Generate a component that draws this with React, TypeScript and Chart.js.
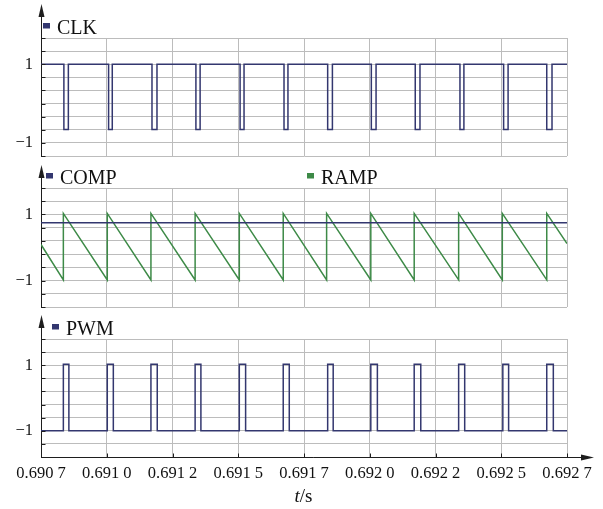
import { useEffect, useRef } from "react";
import { Chart, registerables } from "chart.js";

Chart.register(...registerables);

// ---------- data ----------
const X_MIN = 0.6907;
const X_MAX = 0.6927;
const xTickValues = [0.6907, 0.69095, 0.6912, 0.69145, 0.6917, 0.69195, 0.6922, 0.69245, 0.6927];
const xTickLabels = ["0.690 7", "0.691 0", "0.691 2", "0.691 5", "0.691 7", "0.692 0", "0.692 2", "0.692 5", "0.692 7"];

const clkYTicks = [-1.3333, -1, -0.6667, -0.3333, 0, 0.3333, 0.6667, 1, 1.3333, 1.6667];
const sigYTicks = [-1.8, -1.4, -1, -0.6, -0.2, 0.2, 0.6, 1, 1.4, 1.8];
const yLabelValues = [1, -1];
const yLabelTexts = ["1", "\u22121"];

const clkFallTimes = [0.690787, 0.690957, 0.691122, 0.691289, 0.691457, 0.691624, 0.69179, 0.691956, 0.692123, 0.692293, 0.692459, 0.692623];
const clkRiseTimes = [0.690804, 0.690971, 0.691141, 0.691305, 0.691472, 0.691639, 0.691808, 0.691974, 0.692141, 0.692308, 0.692476, 0.692643];
const CLK_HIGH = 1;
const CLK_LOW = -0.66;

const rampResetTimes = [0.690785, 0.690952, 0.691118, 0.691286, 0.691454, 0.691621, 0.691786, 0.691954, 0.692119, 0.692288, 0.692454, 0.692623];
const RAMP_PEAK = 1.03;
const RAMP_VALLEY = -0.98;
const RAMP_START = 0.09;
const RAMP_END = 0.12;
const COMP_LEVEL = 0.75;

const pwmRiseTimes = [0.690785, 0.690952, 0.691118, 0.691286, 0.691454, 0.691621, 0.69179, 0.691954, 0.692119, 0.692288, 0.692456, 0.692623];
const pwmFallTimes = [0.690806, 0.690975, 0.691142, 0.691308, 0.691478, 0.691644, 0.691811, 0.691979, 0.692144, 0.692311, 0.692478, 0.692648];
const PWM_HIGH = 1.03;
const PWM_LOW = -1;

// ---------- series tables ----------
type P = { x: number; y: number };

function pulseTrain(base: number, level: number, starts: number[], ends: number[]): P[] {
  const pts: P[] = [{ x: X_MIN, y: base }];
  starts.forEach((s, i) => {
    pts.push({ x: s, y: base }, { x: s, y: level }, { x: ends[i], y: level }, { x: ends[i], y: base });
  });
  pts.push({ x: X_MAX, y: base });
  return pts;
}

const clkData = pulseTrain(CLK_HIGH, CLK_LOW, clkFallTimes, clkRiseTimes);
const pwmData = pulseTrain(PWM_LOW, PWM_HIGH, pwmRiseTimes, pwmFallTimes);
const rampData: P[] = [{ x: X_MIN, y: RAMP_START }];
rampResetTimes.forEach((t) => rampData.push({ x: t, y: RAMP_VALLEY }, { x: t, y: RAMP_PEAK }));
rampData.push({ x: X_MAX, y: RAMP_END });
const compData: P[] = [
  { x: X_MIN, y: COMP_LEVEL },
  { x: X_MAX, y: COMP_LEVEL },
];

// ---------- styles ----------
const NAVY = "#33376f";
const GREEN = "#3d8a47";
const GRID = "#bcbcbc";
const AXIS = "#1e1e1e";
const SERIF = "'Liberation Serif', 'Times New Roman', serif";
const TICK_SIZE = 16.5;
const LEGEND_SIZE = 20;
const TITLE_SIZE = 19;

type PanelCfg = {
  top: number;
  height: number;
  padTop: number;
  padBottom: number;
  xHeight: number;
  yTicks: number[];
  series: { label: string; data: P[]; color: string }[];
  legendX: number[];
  arrowTip: number;
  bottomAxis: boolean;
};

const panels: PanelCfg[] = [
  {
    top: 0, height: 160, padTop: 38, padBottom: 4, xHeight: 0, yTicks: clkYTicks,
    series: [{ label: "CLK", data: clkData, color: NAVY }],
    legendX: [43], arrowTip: 4, bottomAxis: false,
  },
  {
    top: 160, height: 150, padTop: 28, padBottom: 3, xHeight: 0, yTicks: sigYTicks,
    series: [
      { label: "COMP", data: compData, color: NAVY },
      { label: "RAMP", data: rampData, color: GREEN },
    ],
    legendX: [46, 307], arrowTip: 5, bottomAxis: false,
  },
  {
    top: 310, height: 199, padTop: 29, padBottom: 0, xHeight: 52, yTicks: sigYTicks,
    series: [{ label: "PWM", data: pwmData, color: NAVY }],
    legendX: [52], arrowTip: 5, bottomAxis: true,
  },
];

function makeDecor(cfg: PanelCfg) {
  return {
    id: "decor",
    afterDraw(chart: any) {
      const { ctx, chartArea: a } = chart;
      const ys = chart.scales.y;
      const xs = chart.scales.x;
      const ax = Math.round(a.left) + 0.5;
      ctx.save();
      ctx.strokeStyle = AXIS;
      ctx.fillStyle = AXIS;
      ctx.lineWidth = 1;
      // y axis arrow
      ctx.beginPath();
      ctx.moveTo(ax, a.top);
      ctx.lineTo(ax, cfg.arrowTip + 8);
      ctx.stroke();
      ctx.beginPath();
      ctx.moveTo(ax, cfg.arrowTip);
      ctx.lineTo(ax - 3, cfg.arrowTip + 13);
      ctx.lineTo(ax + 3, cfg.arrowTip + 13);
      ctx.closePath();
      ctx.fill();
      // inner y tick stubs
      cfg.yTicks.forEach((v) => {
        const py = Math.round(ys.getPixelForValue(v)) + 0.5;
        ctx.beginPath();
        ctx.moveTo(ax, py);
        ctx.lineTo(ax + 4, py);
        ctx.stroke();
      });
      if (cfg.bottomAxis) {
        const by = Math.round(a.bottom) + 0.5;
        ctx.beginPath();
        ctx.moveTo(ax, by);
        ctx.lineTo(585, by);
        ctx.stroke();
        ctx.beginPath();
        ctx.moveTo(594, by);
        ctx.lineTo(581, by - 3);
        ctx.lineTo(581, by + 3);
        ctx.closePath();
        ctx.fill();
        xTickValues.forEach((v) => {
          const px = Math.round(xs.getPixelForValue(v)) + 0.5;
          ctx.beginPath();
          ctx.moveTo(px, by);
          ctx.lineTo(px, by - 4);
          ctx.stroke();
        });
        // axis title t/s
        ctx.fillStyle = "#111";
        ctx.textBaseline = "alphabetic";
        ctx.textAlign = "left";
        ctx.font = `italic ${TITLE_SIZE}px ${SERIF}`;
        const tW = ctx.measureText("t").width;
        ctx.font = `${TITLE_SIZE}px ${SERIF}`;
        const sW = ctx.measureText("/s").width;
        const startX = 303.5 - (tW + sW) / 2;
        const base = 502 - cfg.top;
        ctx.font = `italic ${TITLE_SIZE}px ${SERIF}`;
        ctx.fillText("t", startX, base);
        ctx.font = `${TITLE_SIZE}px ${SERIF}`;
        ctx.fillText("/s", startX + tW, base);
      }
      // legend
      const base = a.top - 4.5;
      ctx.textBaseline = "alphabetic";
      ctx.textAlign = "left";
      ctx.font = `${LEGEND_SIZE}px ${SERIF}`;
      cfg.series.forEach((s, i) => {
        const lx = cfg.legendX[i];
        ctx.fillStyle = s.color;
        ctx.fillRect(lx, base - 10.5, 7, 5.5);
        ctx.fillStyle = "#111";
        ctx.fillText(s.label, lx + 14, base);
      });
      ctx.restore();
    },
  };
}

function PanelChart({ cfg }: { cfg: PanelCfg }) {
  const ref = useRef<HTMLCanvasElement>(null);
  useEffect(() => {
    const chart = new Chart(ref.current!, {
      type: "line",
      data: {
        datasets: cfg.series.map((s) => ({
          label: s.label,
          data: s.data,
          borderColor: s.color,
          backgroundColor: s.color,
          borderWidth: 1.5,
          pointRadius: 0,
          tension: 0,
          fill: false,
        })),
      },
      options: {
        animation: false,
        responsive: false,
        events: [],
        parsing: false,
        normalized: true,
        layout: { padding: { left: 0, right: 36, top: cfg.padTop, bottom: cfg.padBottom } },
        plugins: { legend: { display: false }, tooltip: { enabled: false } },
        scales: {
          x: {
            type: "linear",
            min: X_MIN,
            max: X_MAX,
            afterBuildTicks: (s: any) => {
              s.ticks = xTickValues.map((v) => ({ value: v }));
            },
            afterFit: (s: any) => {
              s.height = cfg.xHeight;
              s.paddingLeft = 0;
              s.paddingRight = 0;
            },
            ticks: {
              display: cfg.bottomAxis,
              autoSkip: false,
              maxRotation: 0,
              padding: 7,
              color: "#111",
              font: { family: SERIF, size: TICK_SIZE },
              callback: (_v: any, i: number) => xTickLabels[i],
            },
            grid: { color: GRID, lineWidth: 1, drawTicks: false },
            border: { display: false },
          },
          y: {
            type: "linear",
            min: cfg.yTicks[0],
            max: cfg.yTicks[cfg.yTicks.length - 1],
            afterBuildTicks: (s: any) => {
              s.ticks = cfg.yTicks.map((v) => ({ value: v }));
            },
            afterFit: (s: any) => {
              s.width = 41;
              s.paddingTop = 0;
              s.paddingBottom = 0;
            },
            ticks: {
              autoSkip: false,
              padding: 8,
              color: "#111",
              font: { family: SERIF, size: TICK_SIZE },
              callback: (v: any) => {
                const k = yLabelValues.findIndex((l) => Math.abs(l - Number(v)) < 1e-3);
                return k >= 0 ? yLabelTexts[k] : "";
              },
            },
            grid: { color: GRID, lineWidth: 1, drawTicks: false },
            border: { display: true, color: AXIS, width: 1 },
          },
        },
      },
      plugins: [makeDecor(cfg)],
    } as any);
    return () => chart.destroy();
  }, [cfg]);
  return (
    <canvas
      ref={ref}
      width={603}
      height={cfg.height}
      style={{ position: "absolute", left: 0, top: cfg.top, width: 603, height: cfg.height }}
    />
  );
}

export default function App() {
  return (
    <div style={{ position: "absolute", left: 0, top: 0, width: 603, height: 509, background: "#fff" }}>
      {panels.map((p, i) => (
        <PanelChart key={i} cfg={p} />
      ))}
    </div>
  );
}
